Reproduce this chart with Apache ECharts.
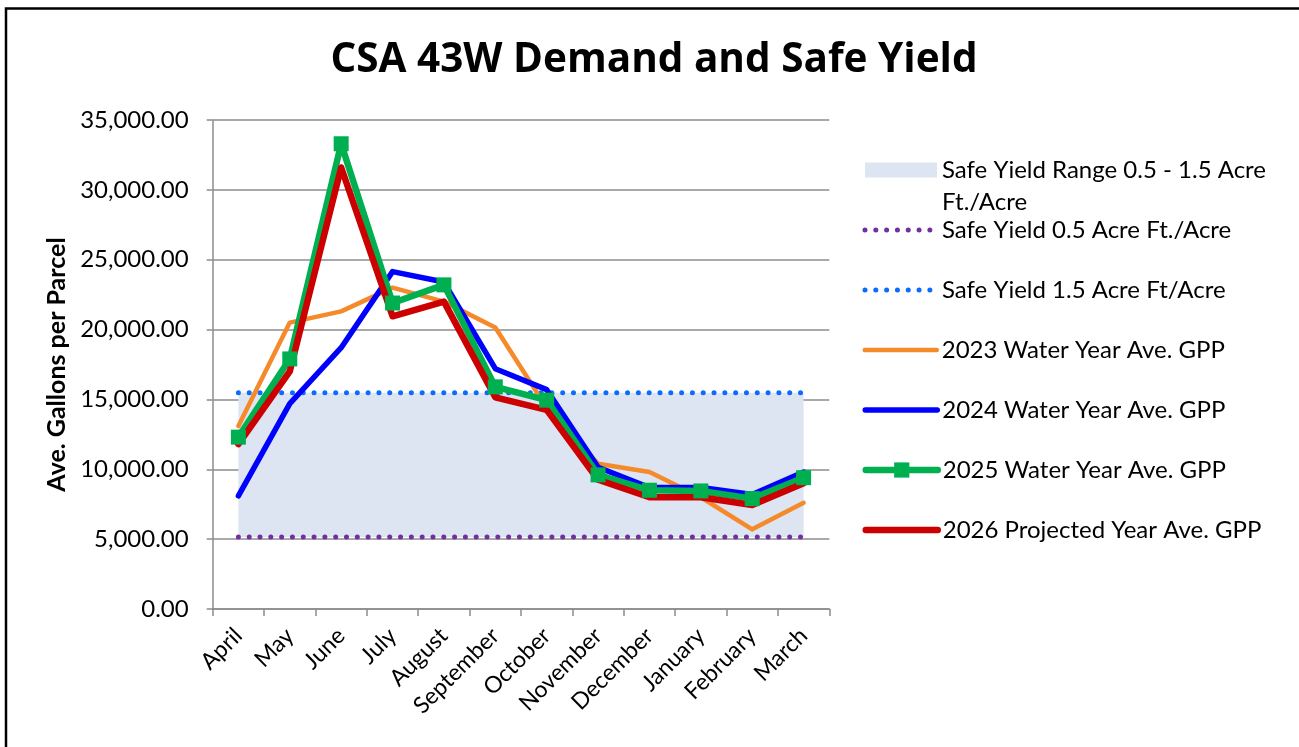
<!DOCTYPE html>
<html>
<head>
<meta charset="utf-8">
<script src="https://cdn.jsdelivr.net/npm/echarts@6/dist/echarts.min.js"></script>
<style>
html,body{margin:0;padding:0;background:#fff;}
#chart{width:1299px;height:747px;}
</style>
</head>
<body>
<div id="chart"></div>
<script>
const categories = ['April','May','June','July','August','September','October','November','December','January','February','March'];
const gpp2023 = [13100, 20500, 21300, 23000, 22000, 20150, 14400, 10400, 9800, 8000, 5700, 7600];
const gpp2024 = [8100, 14700, 18700, 24150, 23400, 17200, 15700, 10150, 8700, 8700, 8200, 9800];
const gpp2025 = [12300, 17900, 33300, 21900, 23200, 15900, 14950, 9600, 8500, 8450, 7900, 9400];
const gpp2026 = [11800, 17000, 31600, 20950, 22000, 15150, 14250, 9250, 8000, 8000, 7450, 9000];
const safeYieldLow = [5160, 5160, 5160, 5160, 5160, 5160, 5160, 5160, 5160, 5160, 5160, 5160];
const safeYieldHigh = [15480, 15480, 15480, 15480, 15480, 15480, 15480, 15480, 15480, 15480, 15480, 15480];
const seriesNames = [
  'Safe Yield Range 0.5 - 1.5 Acre Ft./Acre',
  'Safe Yield 0.5 Acre Ft./Acre',
  'Safe Yield 1.5 Acre Ft/Acre',
  '2023 Water Year Ave. GPP',
  '2024 Water Year Ave. GPP',
  '2025 Water Year Ave. GPP',
  '2026 Projected Year Ave. GPP'
];
const titleText = 'CSA 43W Demand and Safe Yield';
const yAxisName = 'Ave. Gallons per Parcel';

const FONT = 'Lato';
const bandWidth = safeYieldHigh.map((h, i) => h - safeYieldLow[i]);

const styles = [
  {color: '#DCE5F1'},
  {color: '#7030A0', width: 5, type: [0.01, 10.8], cap: 'round'},
  {color: '#0A6CFF', width: 5, type: [0.01, 10.8], cap: 'round'},
  {color: '#F58A2B', width: 4.5, type: 'solid', cap: 'round'},
  {color: '#0000FF', width: 5.5, type: 'solid', cap: 'round'},
  {color: '#00B050', width: 6.5, type: 'solid', cap: 'round'},
  {color: '#CC0000', width: 6.5, type: 'solid', cap: 'round'}
];

const chart = echarts.init(document.getElementById('chart'), null, {renderer: 'canvas'});

const legendCenters = [170, 230, 290, 350, 410, 470, 530];
const legends = seriesNames.map((name, i) => {
  const base = {
    orient: 'vertical',
    left: 862.5,
    padding: 0,
    itemWidth: 72,
    itemHeight: 19,
    itemGap: 0,
    selectedMode: false,
    textStyle: {fontFamily: FONT, fontSize: 24, color: '#000', lineHeight: 32},
    top: legendCenters[i] - 16
  };
  if (i === 0) {
    base.data = [{name: name, icon: 'rect', itemStyle: {color: styles[0].color}}];
    base.itemHeight = 15;
    base.left = 865;
    base.formatter = n => '\n' + n.replace(' Ft./Acre', '\nFt./Acre');
    base.top = legendCenters[i] - 48;
  } else if (i === 5) {
    base.data = [{name: name, lineStyle: Object.assign({}, styles[i])}];
  } else {
    base.data = [{name: name, itemStyle: {opacity: 0}, lineStyle: Object.assign({}, styles[i])}];
  }
  return base;
});

const option = {
  backgroundColor: '#ffffff',
  animation: false,
  title: {
    text: titleText,
    left: 649,
    textAlign: 'center',
    top: 35,
    textStyle: {fontFamily: 'Open Sans', fontSize: 40.5, fontWeight: 'bold', color: '#000'}
  },
  legend: legends,
  grid: {left: 212.7, right: 469.7, top: 120, bottom: 138, containLabel: false, outerBoundsMode: 'none'},
  xAxis: {
    type: 'category',
    data: categories,
    boundaryGap: true,
    axisLine: {show: true, lineStyle: {color: '#8C8C8C', width: 1.5}},
    axisTick: {show: true, length: 7, alignWithLabel: false, lineStyle: {color: '#8C8C8C', width: 1.5}},
    axisLabel: {interval: 0, rotate: 45, margin: 23, fontFamily: FONT, fontSize: 23, color: '#000'},
    splitLine: {show: false}
  },
  yAxis: {
    type: 'value',
    min: 0,
    max: 35000,
    interval: 5000,
    name: yAxisName,
    nameLocation: 'middle',
    nameGap: 143,
    nameRotate: 90,
    nameTextStyle: {fontFamily: FONT, fontSize: 25, fontWeight: 'bold', color: '#000'},
    axisLine: {show: true, lineStyle: {color: '#8C8C8C', width: 1.5}},
    axisTick: {show: true, length: 6, lineStyle: {color: '#8C8C8C', width: 1.5}},
    axisLabel: {
      margin: 24,
      fontFamily: FONT, fontSize: 24, color: '#000',
      formatter: v => v.toLocaleString('en-US', {minimumFractionDigits: 2, maximumFractionDigits: 2})
    },
    splitLine: {show: true, lineStyle: {color: '#8C8C8C', width: 1.5}}
  },
  series: [
    {
      name: 'bandBase', type: 'line', data: safeYieldLow, stack: 'band',
      symbol: 'none', silent: true, lineStyle: {width: 0, opacity: 0}, z: 1
    },
    {
      name: seriesNames[0], type: 'line', data: bandWidth, stack: 'band',
      symbol: 'none', silent: true, lineStyle: {width: 0, opacity: 0},
      areaStyle: {color: styles[0].color, opacity: 1}, itemStyle: {color: styles[0].color}, z: 1
    },
    {
      name: seriesNames[1], type: 'line', data: safeYieldLow, symbol: 'none',
      lineStyle: styles[1], itemStyle: {color: styles[1].color}, z: 2
    },
    {
      name: seriesNames[2], type: 'line', data: safeYieldHigh, symbol: 'none',
      lineStyle: styles[2], itemStyle: {color: styles[2].color}, z: 2
    },
    {
      name: seriesNames[3], type: 'line', data: gpp2023, symbol: 'none',
      lineStyle: Object.assign({join: 'round'}, styles[3]), itemStyle: {color: styles[3].color}, z: 3
    },
    {
      name: seriesNames[4], type: 'line', data: gpp2024, symbol: 'none',
      lineStyle: Object.assign({join: 'round'}, styles[4]), itemStyle: {color: styles[4].color}, z: 3
    },
    {
      name: seriesNames[5], type: 'line', data: gpp2025, symbol: 'rect', symbolSize: 15, showSymbol: true,
      lineStyle: Object.assign({join: 'round'}, styles[5]), itemStyle: {color: styles[5].color}, z: 3
    },
    {
      name: seriesNames[6], type: 'line', data: gpp2026, symbol: 'none',
      lineStyle: Object.assign({join: 'round'}, styles[6]), itemStyle: {color: styles[6].color}, z: 3
    }
  ],
  graphic: [
    {
      type: 'polyline', silent: true, z: 100,
      shape: {points: [[6, 747], [6, 8.5], [1299, 8.5]]},
      style: {stroke: '#000', lineWidth: 2.5, fill: null}
    }
  ]
};
chart.setOption(option);
</script>
</body>
</html>
